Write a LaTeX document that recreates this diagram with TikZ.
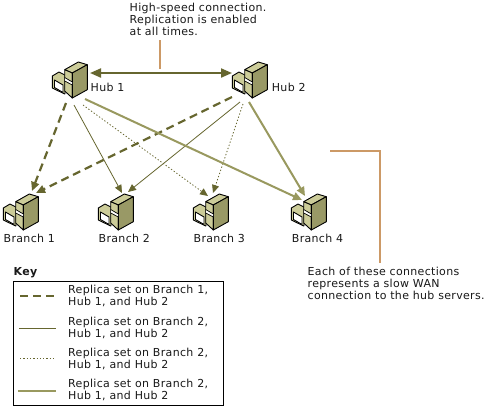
\documentclass[tikz,border=0pt]{standalone}
\usepackage{fontspec}
\setmainfont[LetterSpace=3]{DejaVu Sans}
\usetikzlibrary{arrows.meta}
\definecolor{olive}{HTML}{66662F}
\definecolor{khaki}{HTML}{99995F}
\definecolor{front}{HTML}{CCCC99}
\definecolor{side}{HTML}{999966}
\definecolor{tan}{HTML}{CC9966}
\tikzset{
  x=1pt,y=-1pt,
  txt/.style={inner sep=0pt,anchor=west,align=left,font=\fontsize{11}{12}\selectfont,text=black!90},
  holder/.style={inner sep=0pt,minimum width=35pt,minimum height=37pt,anchor=north west},
  icon/.pic={
    \begin{scope}[draw=black,line width=.9pt,line join=round]
      % small box
      \filldraw[fill=front] (0.3,15) -- (7,11) -- (13,14) -- (13,33) -- (12.7,33) -- (0.3,27) -- cycle;
      \filldraw[fill=white] (2.5,19) -- (11,24) -- (11,31.5) -- (2.5,26.5) -- cycle;
      % tower
      \filldraw[fill=front] (12.7,8.7) -- (26.3,1) -- (35.3,3.7) -- (20.3,12) -- cycle;
      \filldraw[fill=front] (12.7,8.7) -- (20.3,12) -- (20.3,37) -- (12.7,30) -- cycle;
      \filldraw[fill=side] (20.3,12) -- (35.3,3.7) -- (35.3,28.7) -- (20.3,37) -- cycle;
      \fill[white] (13,17) -- (20,21) -- (20,23.5) -- (13,19.5) -- cycle;
      \draw[line width=.7pt] (12.7,16.5) -- (20.3,21) (12.7,20) -- (20.3,24);
    \end{scope}
  },
  thickdash/.style={draw=olive,line width=2.2pt,dash pattern=on 8pt off 5pt,-{Triangle[length=9pt,width=8pt,fill=olive]}},
  thinline/.style={draw=olive,line width=.8pt,-{Triangle[length=8pt,width=7pt,fill=olive]}},
  dotline/.style={draw=olive,line width=.8pt,dash pattern=on 1.3pt off 2pt,-{Triangle[length=8pt,width=7pt,fill=olive]}},
  thickline/.style={draw=khaki,line width=2pt,-{Triangle[length=9pt,width=8pt,fill=khaki]}},
  link/.style={draw=olive,line width=2pt,{Triangle[length=11pt,width=9pt,fill=olive]}-{Triangle[length=11pt,width=9pt,fill=olive]}},
  callout/.style={draw=tan,line width=2pt},
}
\begin{document}
\begin{tikzpicture}
\useasboundingbox[fill=white] (0,0) rectangle (487,408);
% icons
\node[holder] (h1) at (52,61) {};
\node[holder] (h2) at (232,61) {};
\node[holder] (b1) at (3,193) {};
\node[holder] (b2) at (98,193) {};
\node[holder] (b3) at (193,193) {};
\node[holder] (b4) at (291,193) {};
\foreach \n in {h1,h2,b1,b2,b3,b4} \pic at (\n.north west) {icon};
% connectors
\draw[link] ([shift={(38,12)}]h1.north west) -- ([shift={(0,12)}]h2.north west);
\draw[thickdash] ([shift={(14,42)}]h1.north west) -- ([shift={(29,-2)}]b1.north west);
\draw[thickdash] ([shift={(0,36)}]h2.north west) -- ([shift={(33,0)}]b1.north west);
\draw[thinline] ([shift={(22,44)}]h1.north west) -- ([shift={(24,0)}]b2.north west);
\draw[thinline] ([shift={(8,41)}]h2.north west) -- ([shift={(30,-1)}]b2.north west);
\draw[dotline] ([shift={(31,44)}]h1.north west) -- ([shift={(15,3)}]b3.north west);
\draw[dotline] ([shift={(11,43)}]h2.north west) -- ([shift={(20,0)}]b3.north west);
\draw[thickline] ([shift={(33,38)}]h1.north west) -- ([shift={(11,7)}]b4.north west);
\draw[thickline] ([shift={(17,41)}]h2.north west) -- ([shift={(14,3)}]b4.north west);
% labels
\node[txt] (l1) at (90.5,87) {Hub 1};
\node[txt] (l2) at (271.7,87) {Hub 2};
\node[txt] (l3) at (3.5,238) {Branch 1};
\node[txt] (l4) at (98.5,238) {Branch 2};
\node[txt] (l5) at (193.5,238) {Branch 3};
\node[txt] (l6) at (291.7,238) {Branch 4};
\node[txt] (top) at (129.5,19) {High-speed connection.\\Replication is enabled\\at all times.};
\node[txt] (note) at (307.5,283) {Each of these connections\\represents a slow WAN\\connection to the hub servers.};
% callouts
\coordinate (c1a) at (160,40); \coordinate (c1b) at (160,69);
\draw[callout] (c1a) -- (c1b);
\coordinate (c2a) at (330,151); \coordinate (c2b) at (380,151); \coordinate (c2c) at (380,262.5);
\draw[callout] (c2a) -- (c2b) -- (c2c);
% key
\node[txt,font=\fontsize{11}{12}\selectfont\bfseries] (keyt) at (13.5,273) {Key};
\node[draw=black,line width=1pt,inner sep=0pt,minimum width=210pt,minimum height=124.5pt,anchor=north west] (keybox) at (12.5,280.7) {};
\coordinate (k1a) at (20,296); \coordinate (k1b) at (55,296);
\draw[draw=olive,line width=2.2pt,dash pattern=on 8pt off 5pt] (k1a) -- (k1b);
\coordinate (k2a) at (19,328); \coordinate (k2b) at (56,328);
\draw[draw=olive,line width=.8pt] (k2a) -- (k2b);
\coordinate (k3a) at (20,358); \coordinate (k3b) at (56,358);
\draw[draw=olive,line width=.8pt,dash pattern=on 1.3pt off 2pt] (k3a) -- (k3b);
\coordinate (k4a) at (18,390.7); \coordinate (k4b) at (56,390.7);
\draw[draw=khaki,line width=2pt] (k4a) -- (k4b);
\node[txt] (t1) at (68,296) {Replica set on Branch 1,\\Hub 1, and Hub 2};
\node[txt] (t2) at (68,328) {Replica set on Branch 2,\\Hub 1, and Hub 2};
\node[txt] (t3) at (68,359) {Replica set on Branch 2,\\Hub 1, and Hub 2};
\node[txt] (t4) at (68,390) {Replica set on Branch 2,\\Hub 1, and Hub 2};
\end{tikzpicture}
\end{document}
